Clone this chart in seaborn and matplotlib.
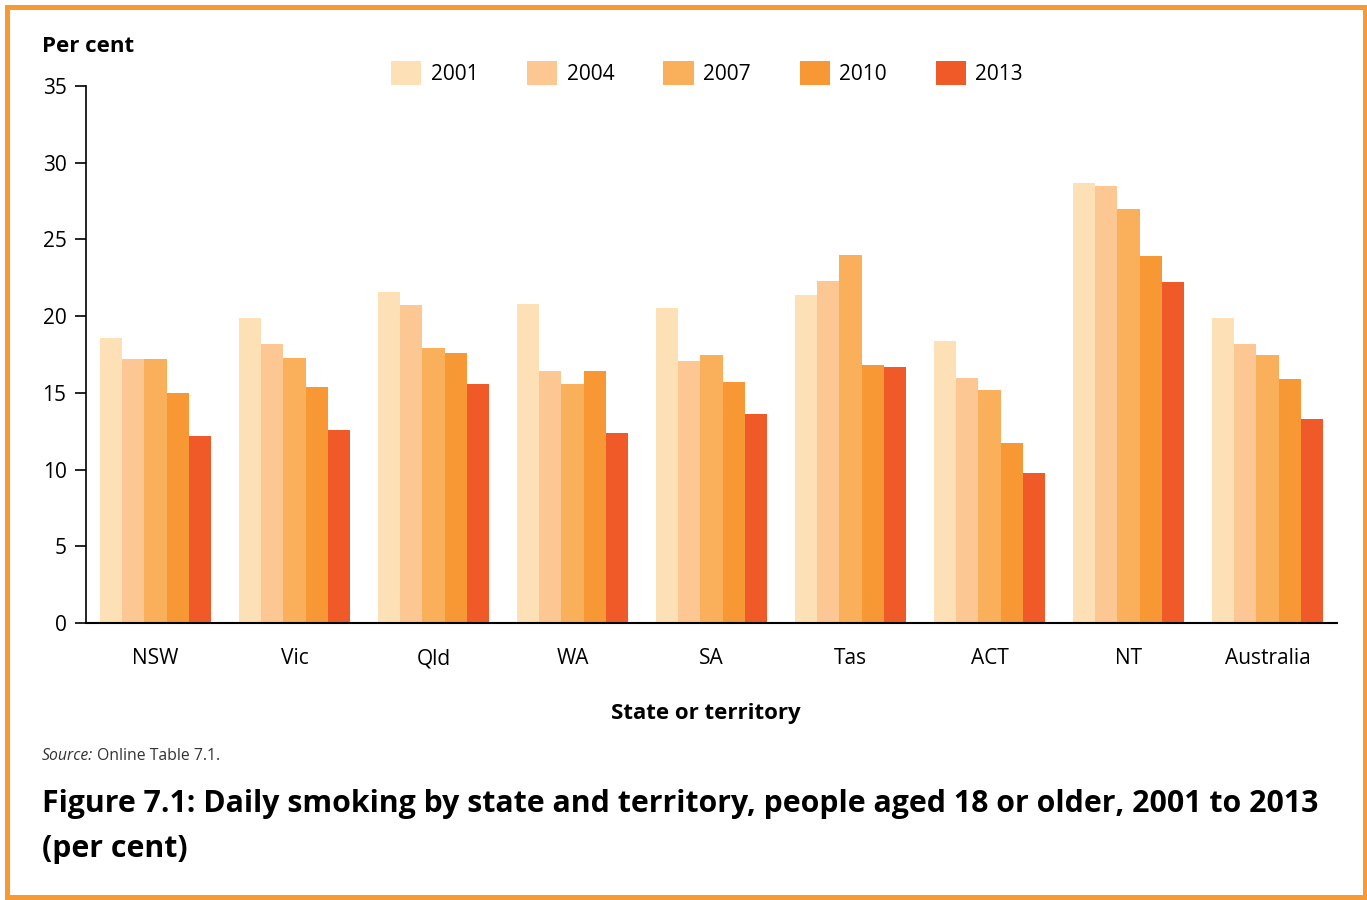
import pandas as pd
import matplotlib.pyplot as plt
import matplotlib.patches as mpatches
import seaborn as sns

# data
states = ["NSW", "Vic", "Qld", "WA", "SA", "Tas", "ACT", "NT", "Australia"]
years = ["2001", "2004", "2007", "2010", "2013"]
y2001 = [18.6, 19.9, 21.6, 20.8, 20.5, 21.4, 18.4, 28.7, 19.9]
y2004 = [17.2, 18.2, 20.7, 16.4, 17.1, 22.3, 16.0, 28.5, 18.2]
y2007 = [17.2, 17.3, 17.9, 15.6, 17.5, 24.0, 15.2, 27.0, 17.5]
y2010 = [15.0, 15.4, 17.6, 16.4, 15.7, 16.8, 11.7, 23.9, 15.9]
y2013 = [12.2, 12.6, 15.6, 12.4, 13.6, 16.7, 9.8, 22.2, 13.3]
colors = ["#FDE0B6", "#FDC794", "#FAB05A", "#F79834", "#F05A28"]

rows = []
for year, vals in zip(years, [y2001, y2004, y2007, y2010, y2013]):
    for st, v in zip(states, vals):
        rows.append({"state": st, "year": year, "value": v})
df = pd.DataFrame(rows)

plt.rcParams["font.family"] = ["Open Sans", "DejaVu Sans"]

fig = plt.figure(figsize=(13.67, 9), dpi=100)
ax = fig.add_axes([86 / 1367, 1 - 623 / 900, (1337 - 86) / 1367, (623 - 86) / 900])

sns.barplot(data=df, x="state", y="value", hue="year", palette=colors,
            saturation=1, width=0.8, linewidth=0, errorbar=None, ax=ax)

ax.set_xlim(-0.5, 8.5)
ax.set_ylim(0, 35)
ax.set_yticks(range(0, 36, 5))
ax.set_xlabel("")
ax.set_ylabel("")
for s in ["top", "right"]:
    ax.spines[s].set_visible(False)
ax.spines["left"].set_linewidth(1.2)
ax.spines["bottom"].set_linewidth(1.5)
ax.tick_params(axis="y", length=8, width=1.2, pad=6, labelsize=15)
ax.tick_params(axis="x", length=0, pad=18, labelsize=15)

# legend across the top
sns.move_legend(ax, "center", bbox_to_anchor=(707 / 1367, 1 - 73 / 900),
                bbox_transform=fig.transFigure, ncol=5, frameon=False, title=None,
                fontsize=15, handlelength=1.45, handleheight=1.45,
                handletextpad=0.45, columnspacing=2.35)

fig.text(42 / 1367, 1 - 46 / 900, "Per cent", fontsize=16, fontweight="bold",
         va="center", ha="left")
fig.text(706 / 1367, 1 - 713 / 900, "State or territory", fontsize=16,
         fontweight="bold", va="center", ha="center")

src = fig.text(42 / 1367, 1 - 756 / 900, "Source:", fontsize=11.3, style="italic",
               va="center", ha="left", color="#333333")
fig.canvas.draw()
bb = src.get_window_extent()
fig.text(bb.x1 / 1367 + 0.003, 1 - 756 / 900, "Online Table 7.1.", fontsize=11.3,
         va="center", ha="left", color="#333333")

fig.text(42 / 1367, 1 - 804 / 900,
         "Figure 7.1: Daily smoking by state and territory, people aged 18 or older, 2001 to 2013",
         fontsize=21.8, fontweight="bold", va="center", ha="left")
fig.text(42 / 1367, 1 - 849 / 900, "(per cent)", fontsize=21.8, fontweight="bold",
         va="center", ha="left")

# orange frame round the figure
fig.patches.append(mpatches.Rectangle((7 / 1367, 3 / 900), 1358 / 1367, 890 / 900,
                                      transform=fig.transFigure, fill=False,
                                      edgecolor="#F79A34", linewidth=3.6))

fig.savefig("out.png", dpi=100)
